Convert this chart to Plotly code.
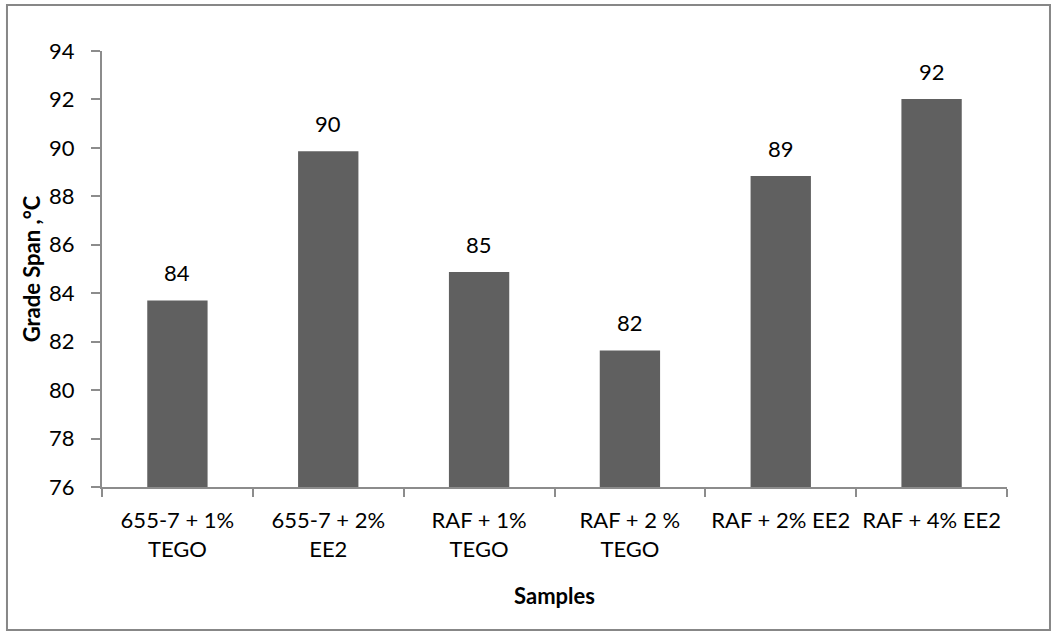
import plotly.graph_objects as go

categories = ["655-7 + 1%<br>TEGO", "655-7 + 2%<br>EE2", "RAF + 1%<br>TEGO",
              "RAF + 2 %<br>TEGO", "RAF + 2% EE2", "RAF + 4% EE2"]
values = [83.7, 89.86, 84.88, 81.64, 88.84, 92.02]
labels = ["84", "90", "85", "82", "89", "92"]
y_ticks = [76, 78, 80, 82, 84, 86, 88, 90, 92, 94]

FONT = "Lato, Open Sans, sans-serif"
AXIS_COLOR = "#8c8c8c"
FS = 22

fig = go.Figure(go.Bar(
    x=categories, y=values, width=0.4,
    marker=dict(color="#606060", line=dict(width=0)),
))

for c, v, t in zip(categories, values, labels):
    fig.add_annotation(x=c, y=v, text=t, showarrow=False, yanchor="bottom",
                       yshift=12, font=dict(size=FS, color="#000000", family=FONT))

fig.add_shape(type="rect", xref="paper", yref="paper",
              x0=-0.105, x1=1.0475, y0=-0.328, y1=1.1055,
              line=dict(color="#878787", width=2), fillcolor="rgba(0,0,0,0)")

fig.update_layout(
    width=1060, height=637,
    margin=dict(l=102, r=53, t=51, b=150),
    paper_bgcolor="white", plot_bgcolor="white",
    showlegend=False,
    font=dict(family=FONT, size=FS, color="#000000"),
    xaxis=dict(
        showline=True, linecolor=AXIS_COLOR, linewidth=2,
        ticks="outside", tickson="boundaries", ticklen=8, tickcolor=AXIS_COLOR, tickwidth=2,
        ticklabelstandoff=13,
        tickfont=dict(size=FS, family=FONT, color="#000000"),
        title=dict(text="<b>Samples</b>", font=dict(size=FS, family=FONT), standoff=28),
        showgrid=False,
    ),
    yaxis=dict(
        range=[76, 94], tickvals=y_ticks,
        showline=True, linecolor=AXIS_COLOR, linewidth=2,
        ticks="outside", ticklen=9, tickcolor=AXIS_COLOR, tickwidth=2,
        ticklabelstandoff=12,
        tickfont=dict(size=FS, family=FONT, color="#000000"),
        title=dict(text="<b>Grade Span ,°C</b>", font=dict(size=FS, family=FONT), standoff=2),
        showgrid=False, zeroline=False,
    ),
)

fig.write_html("out.html")
